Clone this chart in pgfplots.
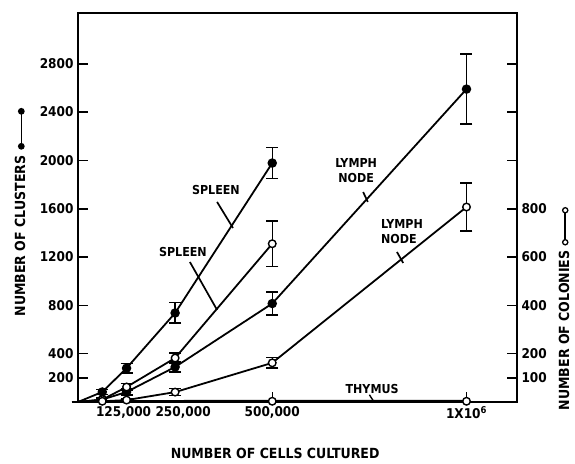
\documentclass[border=0pt]{standalone}
\usepackage{pgfplots}
\usepackage{pgfplotstable}
\pgfplotsset{compat=1.18}
\usepackage{fontspec}
\setmainfont{DejaVu Sans Condensed}
\usetikzlibrary{calc}

% clusters (left axis)
\pgfplotstableread{
x y e
0 0 0
62500 83 20
125000 280 40
250000 737 85
500000 1978 130
}\spleenclu
\pgfplotstableread{
x y e
0 0 0
62500 20 10
125000 83 25
250000 290 40
500000 815 95
1000000 2590 290
}\lymphclu
% colonies (right axis)
\pgfplotstableread{
x y e
0 0 0
62500 10 8
125000 62 15
250000 182 20
500000 655 95
}\spleencol
\pgfplotstableread{
x y e
0 0 0
62500 3 3
125000 8 5
250000 41 15
500000 162 22
1000000 807 100
}\lymphcol
\pgfplotstableread{
x y e
0 0 0
62500 1 0
125000 1 0
250000 2 0
500000 3 40
1000000 3 40
}\thymus

\pgfplotsset{
  myax/.style={
    width=439bp, height=389bp, scale only axis,
    xmin=0, xmax=1130000,
    ymin=0,
    /pgf/number format/assume math mode=true,
    /pgf/number format/1000 sep={},
    tick label style={font=\fontsize{13.5}{15}\selectfont\bfseries},
    major tick length=10bp,
    tick align=inside,
    every tick/.style={black, line width=1.6pt},
    axis line style={line width=2.8pt},
  },
  ser/.style={black, line width=1.8pt, mark size=3.8bp,
    error bars/y dir=both, error bars/y explicit,
    error bars/error bar style={line width=1.5pt},
    error bars/error mark options={rotate=90, mark size=6bp, line width=1.5pt}},
  filled/.style={mark=*, mark options={fill=black, solid}},
  open/.style={mark=*, mark options={fill=white, draw=black, line width=1.4pt}},
}

\begin{document}
\begin{tikzpicture}
\begin{axis}[myax,
  ymax=3220,
  xtick={125000,250000,500000,1000000},
  xticklabels={{125,000\hspace*{6bp}},{\hspace*{16bp}250,000},{500,000},{1X10\textsuperscript{6}}},
  xtick style={draw=none},
  ytick={200,400,800,1200,1600,2000,2400,2800},
  yticklabel style={xshift=-1bp},
  xticklabel style={yshift=-1bp},
  scaled x ticks=false,
  clip=false,
]
\addplot[ser, filled, mark indices={2,3,4,5}] table[x=x,y=y,y error=e] {\spleenclu};
\addplot[ser, filled, mark indices={2,3,4,5,6}] table[x=x,y=y,y error=e] {\lymphclu};

\coordinate (BL) at (rel axis cs:0,0);
\coordinate (TR) at (rel axis cs:1,1);

% in-plot labels
\begin{scope}[font=\fontsize{12.4}{13}\selectfont\bfseries]
\node at (axis cs:355000,1755) {SPLEEN};
\draw[line width=1.7pt] (axis cs:358000,1656) -- (axis cs:399000,1440);
\node at (axis cs:270000,1242) {SPLEEN};
\draw[line width=1.7pt] (axis cs:288000,1159) -- (axis cs:358000,762);
\node[align=center, inner sep=0pt] at (axis cs:716000,1912) {LYMPH\\[2pt]NODE};
\draw[line width=1.7pt] (axis cs:734000,1738) -- (axis cs:746000,1656);
\node[align=left, inner sep=0pt] at (axis cs:834000,1407) {LYMPH\\[2pt]NODE};
\draw[line width=1.7pt] (axis cs:821000,1242) -- (axis cs:837000,1151);
\node at (axis cs:757000,108) {THYMUS};
\draw[line width=1.4pt] (axis cs:750000,60) -- (axis cs:760000,10);
\end{scope}

\begin{scope}[font=\fontsize{14}{16}\selectfont\bfseries]
% x label
\node at (axis description cs:0.449,-0.131) {NUMBER OF CELLS CULTURED};
% left y label
\node[rotate=90] at (axis description cs:-0.132,0.488) {NUMBER OF CLUSTERS\hspace{6bp}\tikz[baseline=-0.5ex]{\draw[line width=1.6pt] (0,0) -- (35bp,0); \fill (0,0) circle (3.4bp); \fill (35bp,0) circle (3.4bp);}};
% right y label
\node[rotate=90] at (axis description cs:1.107,0.240) {NUMBER OF COLONIES\hspace{5bp}\tikz[baseline=-0.5ex]{\draw[line width=1.6pt] (0,0) -- (32bp,0); \draw[line width=1.3pt, fill=white] (0,0) circle (2.6bp); \draw[line width=1.3pt, fill=white] (32bp,0) circle (2.6bp);}};
\end{scope}
\end{axis}

\begin{axis}[myax,
  ymax=1610,
  axis x line=none,
  axis y line*=right,
  ytick={100,200,400,600,800},
  yticklabel style={xshift=1bp},
]
\addplot[ser, black, line width=3pt, mark=none, error bars/error mark=none] table[x=x,y=y,y error=e] {\thymus};
\addplot[open, only marks, mark size=3.8bp, mark indices={5,6}] table[x=x,y=y] {\thymus};
\addplot[ser, open, mark indices={2,3,4,5}] table[x=x,y=y,y error=e] {\spleencol};
\addplot[ser, open, mark indices={2,3,4,5,6}] table[x=x,y=y,y error=e] {\lymphcol};
\end{axis}

\pgfresetboundingbox
\path[use as bounding box] ($(BL)+(-78bp,-62bp)$) rectangle ($(TR)+(58bp,13bp)$);
\end{tikzpicture}
\end{document}
